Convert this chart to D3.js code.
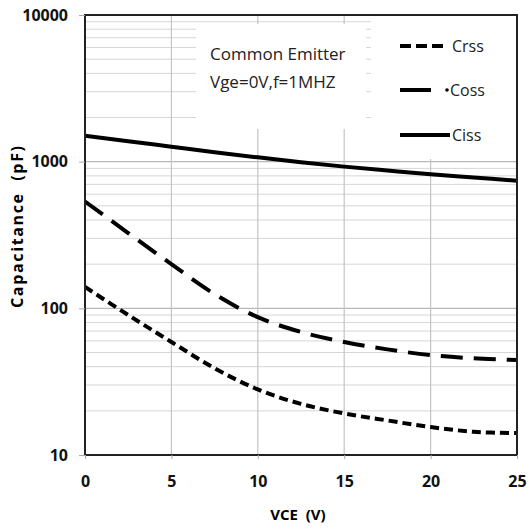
<!DOCTYPE html>
<html>
<head>
<meta charset="utf-8">
<script src="https://cdn.jsdelivr.net/npm/d3@7"></script>
<style>
  body { margin: 0; background: #fff; }
  text { font-family: "Open Sans", "DejaVu Sans", sans-serif; white-space: pre; }
</style>
</head>
<body>
<svg id="chart" width="530" height="529"></svg>
<script>
// data
var vce = [0, 2.5, 5, 7.5, 10, 12.5, 15, 17.5, 20, 22.5, 25];
var ciss = [1500, 1380, 1265, 1160, 1070, 990, 925, 870, 820, 780, 742];
var coss = [535, 326, 200, 125, 87, 69, 59, 52.5, 48, 45.6, 44.4];
var crss = [140, 90, 59, 39, 28, 22.3, 19.2, 17.2, 15.5, 14.4, 14.1];
var xTicks = [0, 5, 10, 15, 20, 25];
var yTicks = [10, 100, 1000, 10000];

var svg = d3.select("#chart");
// plot box ("top" is taken by window.top, so use other names)
var pL = 85, pR = 517, pT = 15, pB = 455;

var x = d3.scaleLinear().domain([0, 25]).range([pL, pR]);
var y = d3.scaleLog().domain([10, 10000]).range([pB, pT]);

// minor horizontal grid (2..9 per decade)
var minor = [];
[10, 100, 1000].forEach(function(d) {
  for (var k = 2; k <= 9; k++) minor.push(d * k);
});

var grid = svg.append("g");
grid.selectAll(".minor").data(minor).enter().append("line")
  .attr("x1", pL).attr("x2", pR)
  .attr("y1", function(d) { return y(d); })
  .attr("y2", function(d) { return y(d); })
  .attr("stroke", "#d6d6d6").attr("stroke-width", 1);

grid.selectAll(".major").data([100, 1000]).enter().append("line")
  .attr("x1", pL).attr("x2", pR)
  .attr("y1", function(d) { return y(d); })
  .attr("y2", function(d) { return y(d); })
  .attr("stroke", "#b8b8b8").attr("stroke-width", 1.2);

grid.selectAll(".vert").data([5, 10, 15, 20]).enter().append("line")
  .attr("x1", function(d) { return x(d); })
  .attr("x2", function(d) { return x(d); })
  .attr("y1", pT).attr("y2", pB)
  .attr("stroke", "#c4c4c4").attr("stroke-width", 1.2);

// white boxes behind the annotation and legend
svg.append("rect").attr("x", 196).attr("y", 24).attr("width", 170).attr("height", 105).attr("fill", "#fff");
svg.append("rect").attr("x", 371).attr("y", pT + 1).attr("width", pR - 372).attr("height", 143).attr("fill", "#fff");

// curves
var series = [
  { name: "Crss", values: crss, dash: "9,5" },
  { name: "Coss", values: coss, dash: "22,11" },
  { name: "Ciss", values: ciss, dash: null }
];

var line = d3.line()
  .x(function(d) { return x(d[0]); })
  .y(function(d) { return y(d[1]); })
  .curve(d3.curveCatmullRom.alpha(0.5));

series.forEach(function(s) {
  svg.append("path")
    .datum(vce.map(function(v, i) { return [v, s.values[i]]; }))
    .attr("d", line)
    .attr("fill", "none")
    .attr("stroke", "#000")
    .attr("stroke-width", 4)
    .attr("stroke-dasharray", s.dash);
});

// frame
svg.append("rect")
  .attr("x", pL).attr("y", pT)
  .attr("width", pR - pL).attr("height", pB - pT)
  .attr("fill", "none").attr("stroke", "#222").attr("stroke-width", 2);

// axes
var yAxis = svg.append("g")
  .attr("transform", "translate(" + pL + ",0)")
  .call(d3.axisLeft(y).tickValues(yTicks).tickFormat(d3.format("d")).tickSize(6).tickPadding(11));
var xAxis = svg.append("g")
  .attr("transform", "translate(0," + pB + ")")
  .call(d3.axisBottom(x).tickValues(xTicks).tickSize(4).tickPadding(17));

[xAxis, yAxis].forEach(function(a) {
  a.select(".domain").remove();
  a.selectAll("line").attr("stroke", "#aaa");
  a.selectAll("text")
    .attr("fill", "#111")
    .style("font-size", "16px")
    .style("font-weight", "bold");
});

// axis titles
svg.append("text")
  .attr("x", 298).attr("y", 520)
  .attr("text-anchor", "middle")
  .style("font-size", "15px").style("font-weight", "bold")
  .text("VCE  (V)");

svg.append("text")
  .attr("transform", "translate(23,227) rotate(-90)")
  .attr("text-anchor", "middle")
  .attr("textLength", 162).attr("lengthAdjust", "spacing")
  .style("font-size", "16px").style("font-weight", "bold")
  .text("Capacitance  (pF)");

// annotation
svg.append("text").attr("x", 210).attr("y", 60)
  .style("font-size", "17px").attr("fill", "#222")
  .text("Common Emitter");
svg.append("text").attr("x", 210).attr("y", 88)
  .style("font-size", "17px").attr("fill", "#222")
  .text("Vge=0V,f=1MHZ");

// legend
var legendY = [46, 90, 135];
series.forEach(function(s, i) {
  var g = svg.append("g");
  var x2 = s.name === "Ciss" ? 450 : (s.name === "Coss" ? 431 : 443);
  g.append("line")
    .attr("x1", 400).attr("x2", x2)
    .attr("y1", legendY[i]).attr("y2", legendY[i])
    .attr("stroke", "#000").attr("stroke-width", 4)
    .attr("stroke-dasharray", s.name === "Crss" ? "11,5" : null);
  if (s.name === "Coss") {
    g.append("circle").attr("cx", 447).attr("cy", legendY[i]).attr("r", 1.8).attr("fill", "#000");
  }
  g.append("text")
    .attr("x", s.name === "Coss" ? 450 : 452)
    .attr("y", legendY[i] + 6)
    .style("font-size", "16px").attr("fill", "#222")
    .text(s.name);
});
</script>
</body>
</html>
